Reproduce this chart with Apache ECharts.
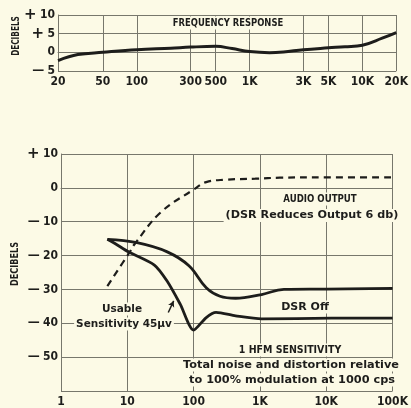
<!DOCTYPE html>
<html>
<head>
<meta charset="utf-8">
<script src="https://cdn.jsdelivr.net/npm/echarts@6/dist/echarts.min.js"></script>
<style>
  html, body { margin: 0; padding: 0; background: #fcfae6; }
  #chart { width: 411px; height: 408px; }
</style>
</head>
<body>
<div id="chart"></div>
<script>
// Frequency response panel, 20 cps to 20 kc
const responseFreqs = [20, 30, 50, 100, 200, 300, 500, 700, 1000, 1500, 2000, 3000, 5000, 7000, 10000, 15000, 20000];
const responseDb = [-2.2, -0.6, 0, 0.7, 1.1, 1.4, 1.6, 1.0, 0.2, -0.1, 0.1, 0.7, 1.2, 1.5, 1.9, 3.8, 5.3];
const responseFreqTicks = [20, 50, 100, 300, 500, 1000, 3000, 5000, 10000, 20000];

// Audio output and sensitivity panel, 1 cps to 100 kc
const audioFreqs = [5, 11, 13, 32, 100, 155, 300, 850, 2000, 10000, 100000];
const audioDb = [-29, -18.8, -16.5, -7.2, -0.5, 1.7, 2.4, 2.7, 3.0, 3.1, 3.1];
const dsrOffFreqs = [5, 14, 40, 85, 155, 250, 430, 1060, 2300, 10000, 100000];
const dsrOffDb = [-15.2, -16.2, -18.9, -23, -29.5, -32, -32.6, -31.5, -30, -29.9, -29.7];
const hfmFreqs = [5, 6.6, 10.4, 25.6, 40, 63, 100, 155, 218, 430, 1060, 12000, 100000];
const hfmDb = [-15.2, -16.5, -18.9, -22.8, -27.6, -34.4, -42, -38.3, -36.8, -37.8, -38.7, -38.5, -38.5];
const sensitivityFreqTicks = [1, 10, 100, 1000, 10000, 100000];

const PAPER = '#fcfae6';
const INK = '#1d1d1b';
const GRID = '#77776c';
const NARROW = '"Liberation Sans Narrow", "DejaVu Sans Condensed", sans-serif';
const WIDE = '"DejaVu Sans", sans-serif';

const pairs = (xs, ys) => xs.map((x, i) => [x, ys[i]]);
const freqLabel = v => (v >= 1000 ? (v / 1000) + 'K' : String(v));

function dbLabel(v, hideBelow) {
  if (v <= hideBelow) return '';
  if (v > 0) return '{s|+} {n|' + v + '}';
  if (v === 0) return '{n|0}';
  return '{m|—} {n|' + (-v) + '}';
}

const dbRich = {
  s: { fontFamily: WIDE, fontWeight: 'bold', fontSize: 15, color: INK },
  m: { fontFamily: WIDE, fontWeight: 'bold', fontSize: 12, color: INK },
  n: { fontFamily: NARROW, fontWeight: 'bold', fontSize: 12, color: INK }
};

function freqAxis(gridIndex, min, max, ticks) {
  return {
    type: 'log', logBase: 10, gridIndex, min, max,
    axisLine: { show: true, lineStyle: { color: GRID, width: 1 } },
    axisTick: { show: false, customValues: ticks },
    axisLabel: {
      customValues: ticks, formatter: freqLabel, margin: 5,
      fontFamily: NARROW, fontWeight: 'bold', fontSize: 12, color: INK
    },
    splitLine: { show: true, lineStyle: { color: GRID, width: 1 } },
    minorSplitLine: { show: false }
  };
}

function dbAxis(gridIndex, min, max, interval, hideBelow) {
  return {
    type: 'value', gridIndex, min, max, interval,
    axisLine: { show: true, lineStyle: { color: GRID, width: 1 } },
    axisTick: { show: false },
    axisLabel: { margin: 3, formatter: v => dbLabel(v, hideBelow), rich: dbRich },
    splitLine: { show: true, lineStyle: { color: GRID, width: 1 } }
  };
}

// Text block on a paper-coloured backing so the grid stops behind it
function note(text, x, y, font, extra) {
  return Object.assign({
    type: 'text', x, y, z: 1,
    style: {
      text, font, fill: INK, align: 'center', verticalAlign: 'middle',
      backgroundColor: PAPER, padding: [1, 2]
    }
  }, extra || {});
}

const option = {
  backgroundColor: PAPER,
  animation: false,
  grid: [
    { left: 58, right: 8, top: 15, height: 56 },
    { left: 61, right: 10, top: 154, height: 241 }
  ],
  xAxis: [
    freqAxis(0, 20, 20000, responseFreqTicks),
    freqAxis(1, 1, 100000, sensitivityFreqTicks)
  ],
  yAxis: [
    dbAxis(0, -5, 10, 5, -99),
    dbAxis(1, -60, 10, 10, -60)
  ],
  series: [
    {
      name: 'Frequency Response', type: 'line', xAxisIndex: 0, yAxisIndex: 0,
      data: pairs(responseFreqs, responseDb), smooth: 0.4, symbol: 'none',
      lineStyle: { color: INK, width: 3 }
    },
    {
      name: 'Audio Output', type: 'line', xAxisIndex: 1, yAxisIndex: 1,
      data: pairs(audioFreqs, audioDb), smooth: 0.4, symbol: 'none',
      lineStyle: { color: INK, width: 2.2, type: [7, 5] }
    },
    {
      name: 'DSR Off', type: 'line', xAxisIndex: 1, yAxisIndex: 1,
      data: pairs(dsrOffFreqs, dsrOffDb), smooth: 0.4, symbol: 'none',
      lineStyle: { color: INK, width: 2.8 }
    },
    {
      name: 'HFM Sensitivity', type: 'line', xAxisIndex: 1, yAxisIndex: 1,
      data: pairs(hfmFreqs, hfmDb), smooth: 0.25, symbol: 'none',
      lineStyle: { color: INK, width: 2.8 },
      markLine: {
        silent: true, symbol: ['none', 'arrow'], symbolSize: [5, 6],
        label: { show: false },
        lineStyle: { color: INK, width: 1.5, type: 'solid' },
        data: [[{ coord: [41.5, -36.8] }, { coord: [50, -33.4] }]]
      }
    }
  ],
  graphic: [
    note('DECIBELS', 16, 36, 'bold 11px ' + NARROW, { rotation: Math.PI / 2, scaleX: 0.74 }),
    note('DECIBELS', 15, 264, 'bold 11px ' + NARROW, { rotation: Math.PI / 2, scaleX: 0.82 }),
    note('FREQUENCY RESPONSE', 228, 23, 'bold 11px ' + NARROW, { scaleX: 0.85 }),
    note('AUDIO OUTPUT', 320, 199, 'bold 11px ' + NARROW, { scaleX: 0.87 }),
    note('(DSR Reduces Output 6 db)', 312, 215.5, 'bold 11.2px ' + WIDE),
    note('DSR Off', 305, 307, 'bold 11px ' + WIDE),
    note('Usable', 122, 309, 'bold 10.5px ' + WIDE),
    note('Sensitivity 45µv', 124, 324, 'bold 10.5px ' + WIDE),
    note('1 HFM SENSITIVITY', 290, 350, 'bold 10.5px ' + NARROW),
    note('Total noise and distortion relative', 291, 365, 'bold 11.3px ' + WIDE),
    note('to 100% modulation at 1000 cps', 292, 380, 'bold 11.3px ' + WIDE)
  ]
};

const chart = echarts.init(document.getElementById('chart'), null, { renderer: 'canvas' });
chart.setOption(option);
</script>
</body>
</html>
